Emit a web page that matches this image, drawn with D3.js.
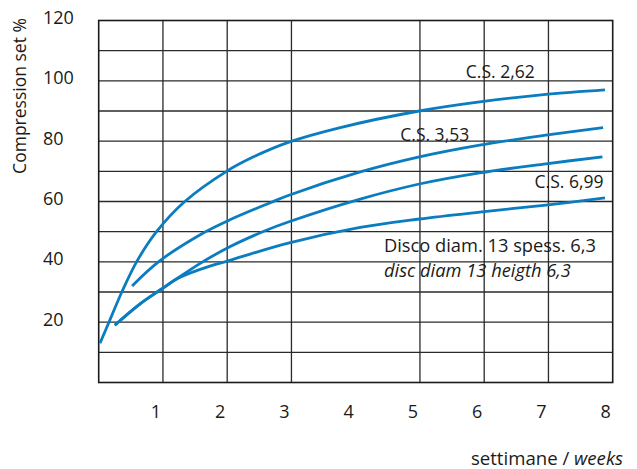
<!DOCTYPE html>
<html>
<head>
<meta charset="utf-8">
<script src="https://cdn.jsdelivr.net/npm/d3@7"></script>
<style>
  html, body { margin: 0; padding: 0; background: #fff; }
  svg text { font-family: "Open Sans", "Noto Sans", sans-serif; fill: #1a1a1a; }
</style>
</head>
<body>
<svg id="chart" width="637" height="469"></svg>
<script>
// ---- data (weeks, compression set %) ----
const seriesNames = ["C.S. 2,62", "C.S. 3,53", "C.S. 5,33", "C.S. 6,99"];
const cs262 = [[0.02,13],[0.18,21],[0.36,30],[0.59,40],[0.9,50],[1.34,60],[1.99,70],[2.41,74.8],[2.95,79.6],[3.76,84.5],[4.99,90],[5.93,93],[6.96,95.5],[7.88,97]];
const cs353 = [[0.52,32],[0.93,40],[1.58,49],[2.05,54],[2.67,59.6],[2.95,62],[4.07,69.8],[4.99,74.8],[5.93,78.7],[6.96,82],[7.85,84.5]];
const cs533 = [[0.25,19],[0.64,26],[0.98,31],[1.21,34.3],[1.58,39.5],[2.04,45],[2.59,50.3],[2.95,53.2],[4.07,60.8],[4.99,65.8],[5.93,69.5],[6.96,72.5],[7.84,74.8]];
const cs699 = [[0.25,19],[0.64,26],[0.98,31],[1.21,34.3],[1.58,37.5],[2.04,40.5],[2.95,46.2],[4.07,51.4],[4.99,54.2],[5.93,56.5],[6.96,58.8],[7.88,61.2]];
const xTickValues = [1,2,3,4,5,6,7,8];
const xGridValues = [1,2,3,5,6,7];
const yTickValues = [20,40,60,80,100,120];
const yGridValues = [10,20,30,40,50,60,70,80,90,100,110];
// annotation anchors in data units: [text, weeks, value, anchor, italic, size]
const labels = [
  ["C.S. 2,62", 6.25, 100.8, "middle", false, 17.5],
  ["C.S. 3,53", 5.23, 80.2, "middle", false, 17.5],
  ["C.S. 6,99", 7.32, 64.6, "middle", false, 17.5],
  ["Disco diam. 13 spess. 6,3", 4.44, 43.2, "start", false, 18.3],
  ["disc diam 13 heigth 6,3", 4.44, 34.9, "start", true, 18.3]
];

const svg = d3.select("#chart");
const x = d3.scaleLinear().domain([0, 8]).range([98.7, 612.7]);
const y = d3.scaleLinear().domain([0, 120]).range([382.5, 20.5]);
const blue = "#0a7cc0";
const gridColor = "#2a2a2a";

// grid
svg.append("g").selectAll("line").data(yGridValues).join("line")
  .attr("x1", x(0)).attr("x2", x(8))
  .attr("y1", d => y(d)).attr("y2", d => y(d))
  .attr("stroke", gridColor).attr("stroke-width", 1.3);
svg.append("g").selectAll("line").data(xGridValues).join("line")
  .attr("y1", y(0)).attr("y2", y(120))
  .attr("x1", d => x(d)).attr("x2", d => x(d))
  .attr("stroke", gridColor).attr("stroke-width", 1.3);
// frame
svg.append("rect")
  .attr("x", x(0)).attr("y", y(120))
  .attr("width", x(8) - x(0)).attr("height", y(0) - y(120))
  .attr("fill", "none").attr("stroke", "#1a1a1a").attr("stroke-width", 1.6);

// x tick labels
svg.append("g").selectAll("text").data(xTickValues).join("text")
  .attr("x", d => x(d) - 7).attr("y", 418)
  .attr("text-anchor", "middle").attr("font-size", 18)
  .text(d => d);
// y tick labels (left aligned)
svg.append("g").selectAll("text").data(yTickValues).join("text")
  .attr("x", 43).attr("y", d => y(d) + 3.5)
  .attr("text-anchor", "start").attr("font-size", 18)
  .text(d => d);

// axis titles
svg.append("text")
  .attr("transform", "translate(26,96) rotate(-90)")
  .attr("text-anchor", "middle").attr("font-size", 17.5)
  .text("Compression set %");
const xt = svg.append("text")
  .attr("x", 623).attr("y", 465)
  .attr("text-anchor", "end").attr("font-size", 18.6);
xt.append("tspan").text("settimane / ");
xt.append("tspan").attr("font-style", "italic").text("weeks");

// curves
const line = d3.line().x(d => x(d[0])).y(d => y(d[1])).curve(d3.curveCatmullRom.alpha(0.5));
svg.append("g").selectAll("path").data([cs262, cs353, cs533, cs699]).join("path")
  .attr("d", line)
  .attr("fill", "none").attr("stroke", blue).attr("stroke-width", 2.8)
  .attr("stroke-linecap", "butt");

// annotations
svg.append("g").selectAll("text").data(labels).join("text")
  .attr("x", d => x(d[1])).attr("y", d => y(d[2]))
  .attr("text-anchor", d => d[3])
  .attr("font-style", d => d[4] ? "italic" : "normal")
  .attr("font-size", d => d[5])
  .text(d => d[0]);
</script>
</body>
</html>
